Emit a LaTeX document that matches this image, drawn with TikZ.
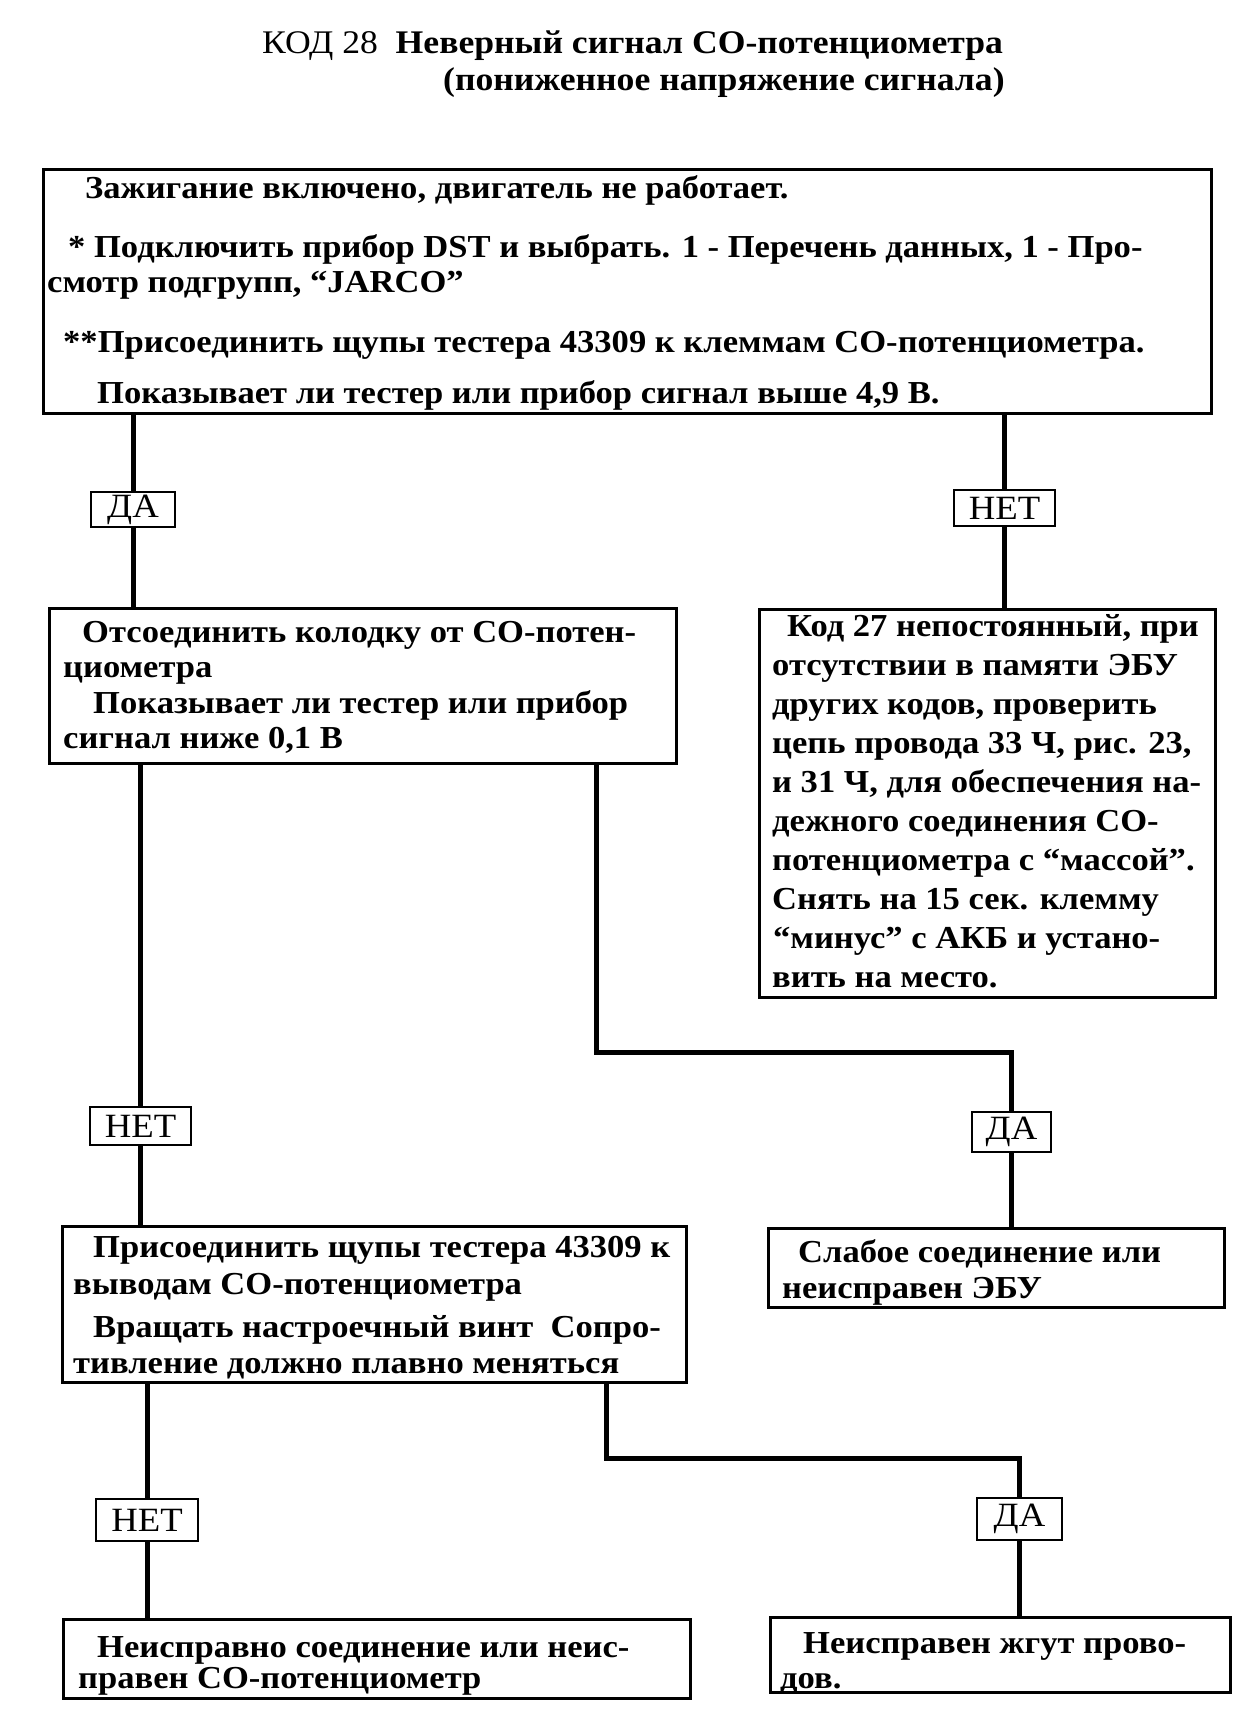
\documentclass[tikz,border=0pt]{standalone}
\usepackage{fontspec}
\setmainfont{Liberation Serif}[FakeStretch=1.08]
\newcommand\tline[4]{\node[txt] (#1) at (#2,#3) {#4};}
\begin{document}
\begin{tikzpicture}[x=1pt,y=-1pt,
  box/.style={draw, line width=3pt, inner sep=0pt, rectangle},
  lab/.style={draw, fill=white, line width=2.6pt, inner sep=0pt, rectangle, font=\fontsize{34}{34}\selectfont},
  txt/.style={anchor=base west, inner sep=0pt, font=\fontsize{32}{32}\selectfont\bfseries},
  ttl/.style={anchor=base west, inner sep=0pt, font=\fontsize{33}{33}\selectfont},
  conn/.style={line width=5pt}]
\useasboundingbox (0,0) rectangle (1240,1719);

% title
\node[ttl] (title1) at (262,53) {КОД 28~ \textbf{Неверный сигнал СО-потенциометра}};
\node[ttl] (title2) at (443,90) {\textbf{(пониженное напряжение сигнала)}};

% boxes
\node[box, minimum width=1168pt, minimum height=244pt] (b1) at (627,291) {};
\node[box, minimum width=627pt, minimum height=155pt] (b2) at (362.5,685.5) {};
\node[box, minimum width=456pt, minimum height=388pt] (b3) at (987,803) {};
\node[box, minimum width=624pt, minimum height=156pt] (b4) at (374,1304) {};
\node[box, minimum width=456pt, minimum height=79pt] (b5) at (996,1267.5) {};
\node[box, minimum width=627pt, minimum height=79pt] (b6) at (376.5,1658.5) {};
\node[box, minimum width=460pt, minimum height=75pt] (b7) at (1000,1654.5) {};

% labels
\node[lab, minimum width=84pt, minimum height=35pt] (l1) at (133,509.5) {ДА};
\node[lab, minimum width=101pt, minimum height=36pt] (l2) at (1004.5,508) {НЕТ};
\node[lab, minimum width=101pt, minimum height=38pt] (l3) at (140.5,1126) {НЕТ};
\node[lab, minimum width=79pt, minimum height=40pt] (l4) at (1011.5,1132) {ДА};
\node[lab, minimum width=102pt, minimum height=42pt] (l5) at (147,1520) {НЕТ};
\node[lab, minimum width=85pt, minimum height=42pt] (l6) at (1019.5,1519) {ДА};

\coordinate (e1) at (596,1052);
\coordinate (e2) at (606,1458);

% connectors
\draw[conn] (b1.south -| l1) -- (l1.north);
\draw[conn] (l1.south) -- (b2.north -| l1);
\draw[conn] (b1.south -| l2) -- (l2.north);
\draw[conn] (l2.south) -- (b3.north -| l2);
\draw[conn] (b2.south -| l3) -- (l3.north);
\draw[conn] (l3.south) -- (b4.north -| l3);
\draw[conn] (b2.south -| e1) -- (e1) -- (e1 -| l4) -- (l4.north);
\draw[conn] (l4.south) -- (b5.north -| l4);
\draw[conn] (b4.south -| l5) -- (l5.north);
\draw[conn] (l5.south) -- (b6.north -| l5);
\draw[conn] (b4.south -| e2) -- (e2) -- (e2 -| l6) -- (l6.north);
\draw[conn] (l6.south) -- (b7.north -| l6);

% box 1 text
\tline{t1a}{85}{198}{Зажигание включено, двигатель не работает.}
\tline{t1b}{68}{257}{* Подключить прибор DST и выбрать. 1 - Перечень данных, 1 - Про-}
\tline{t1c}{47}{292}{смотр подгрупп, “JARCO”}
\tline{t1d}{63}{352}{**Присоединить щупы тестера 43309 к клеммам СО-потенциометра.}
\tline{t1e}{97}{403}{Показывает ли тестер или прибор сигнал выше 4,9 В.}

% box 2 text
\tline{t2a}{82}{642}{Отсоединить колодку от СО-потен-}
\tline{t2b}{63}{677}{циометра}
\tline{t2c}{93}{713}{Показывает ли тестер или прибор}
\tline{t2d}{63}{748}{сигнал ниже 0,1 В}

% box 3 text
\tline{t3a}{787}{636}{Код 27 непостоянный, при}
\tline{t3b}{772}{675}{отсутствии в памяти ЭБУ}
\tline{t3c}{772}{714}{других кодов, проверить}
\tline{t3d}{772}{753}{цепь провода 33 Ч, рис. 23,}
\tline{t3e}{772}{792}{и 31 Ч, для обеспечения на-}
\tline{t3f}{772}{831}{дежного соединения СО-}
\tline{t3g}{772}{870}{потенциометра с “массой”.}
\tline{t3h}{772}{909}{Снять на 15 сек. клемму}
\tline{t3i}{773}{948}{“минус” с АКБ и устано-}
\tline{t3j}{772}{987}{вить на место.}

% box 4 text
\tline{t4a}{93}{1257}{Присоединить щупы тестера 43309 к}
\tline{t4b}{73}{1294}{выводам СО-потенциометра}
\tline{t4c}{93}{1337}{Вращать настроечный винт~ Сопро-}
\tline{t4d}{73}{1373}{тивление должно плавно меняться}

% box 5 text
\tline{t5a}{798}{1262}{Слабое соединение или}
\tline{t5b}{782}{1298}{неисправен ЭБУ}

% box 6 text
\tline{t6a}{97}{1657}{Неисправно соединение или неис-}
\tline{t6b}{78}{1688}{правен СО-потенциометр}

% box 7 text
\tline{t7a}{803}{1653}{Неисправен жгут прово-}
\tline{t7b}{780}{1688}{дов.}
\end{tikzpicture}
\end{document}
